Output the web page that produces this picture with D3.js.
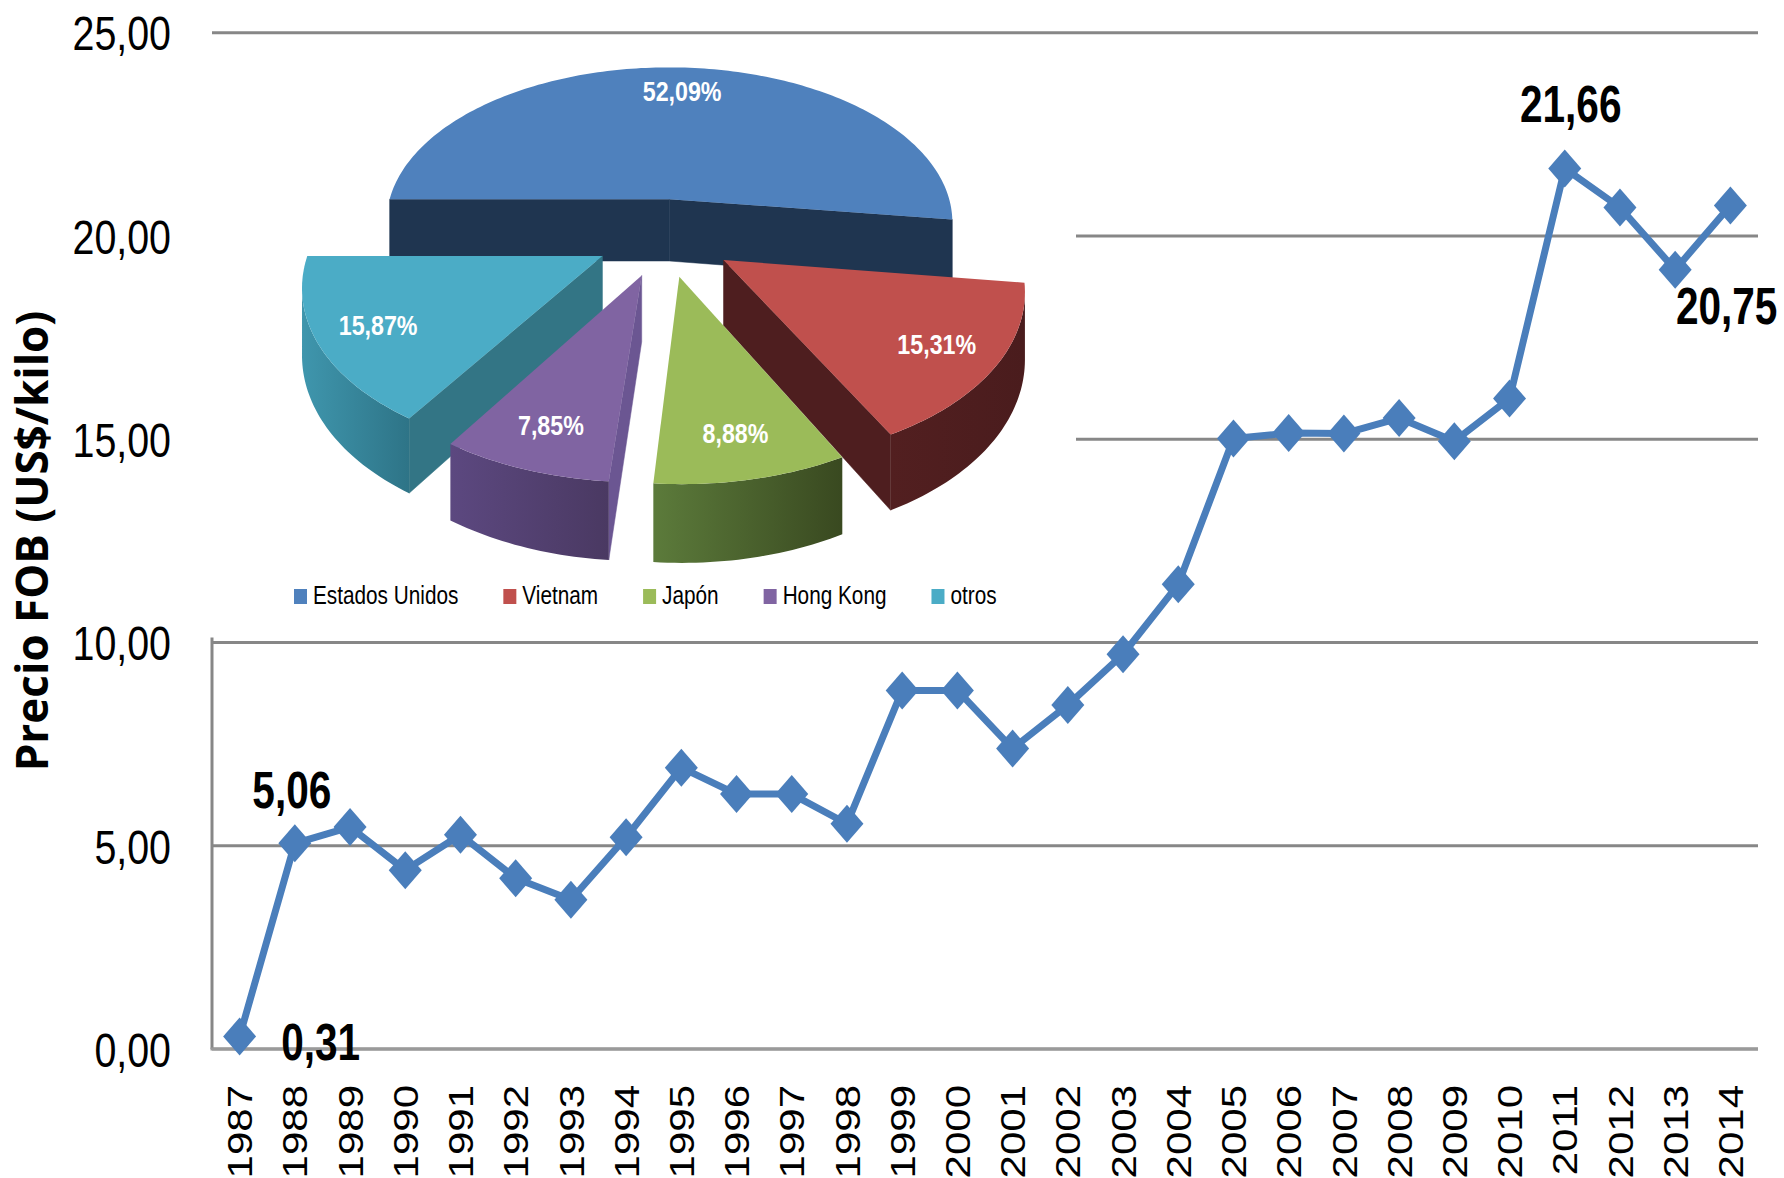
<!DOCTYPE html>
<html>
<head>
<meta charset="utf-8">
<script src="https://cdn.jsdelivr.net/npm/d3@7"></script>
<style>
  body { margin: 0; background: #fff; }
  svg { display: block; }
  .narrow { font-family: "Liberation Sans", Arial, sans-serif; }
</style>
</head>
<body>
<svg id="chart" width="1784" height="1178"></svg>
<script>
// ---------------- DATA ----------------
const years = ["1987","1988","1989","1990","1991","1992","1993","1994","1995","1996",
               "1997","1998","1999","2000","2001","2002","2003","2004","2005","2006",
               "2007","2008","2009","2010","2011","2012","2013","2014"];
const prices = [0.31, 5.06, 5.46, 4.40, 5.27, 4.20, 3.67, 5.21, 6.92, 6.27,
                6.27, 5.54, 8.82, 8.82, 7.39, 8.46, 9.71, 11.43, 15.02, 15.15,
                15.14, 15.52, 14.95, 16.00, 21.66, 20.70, 19.17, 20.75];
const labelledYears = ["1987", "1988", "2011", "2014"];
const yTicks = [0, 5, 10, 15, 20, 25];
const yTitle = "Precio FOB (US$/kilo)";

const markets = ["Estados Unidos", "Vietnam", "Japón", "Hong Kong", "otros"];
const shares = [52.09, 15.31, 8.88, 7.85, 15.87];

// ---------------- STYLE ----------------
const topColors  = ["#4F81BD", "#C0504D", "#9BBB59", "#8064A2", "#4BACC6"];
const wallFrom   = ["#22395A", "#521F20", "#5C7B3B", "#5C4880", "#3F96AD"];
const wallTo     = ["#1E3450", "#4A1C1D", "#394920", "#4A3962", "#2E7487"];
const faceColors = ["#1F3550", "#4E1E1F", "#4C6430", "#6B5692", "#337585"];

const locale = d3.formatLocale({decimal: ",", thousands: ".", grouping: [3], currency: ["", ""]});
const fmt2 = locale.format(".2f");

// squeeze / stretch text along its advance direction (Calibri-like narrow look)
function fitText(sel, factor) {
  sel.each(function () {
    const len = this.getComputedTextLength();
    d3.select(this).attr("textLength", len * factor).attr("lengthAdjust", "spacingAndGlyphs");
  });
}

const svg = d3.select("#chart");
const pL = 212, pR = 1758, pT = 32.7, pB = 1049;

const x = d3.scaleBand().domain(years).range([pL, pR]);
const y = d3.scaleLinear().domain([0, 25]).range([pB, pT]);
const xc = d => x(d) + x.bandwidth() / 2;

// gridlines
svg.append("g").selectAll("line").data(yTicks).join("line")
  .attr("x1", pL).attr("x2", pR)
  .attr("y1", d => y(d)).attr("y2", d => y(d))
  .attr("stroke", "#878787").attr("stroke-width", 3);

// y axis labels
const yAxis = svg.append("g").attr("transform", `translate(${pL},0)`)
  .call(d3.axisLeft(y).tickValues(yTicks).tickSize(0).tickPadding(41).tickFormat(fmt2));
yAxis.select(".domain").remove();
yAxis.selectAll("text").attr("class", "narrow").attr("font-size", 48).attr("fill", "#000")
  .attr("dy", "0.36em").call(fitText, 0.82);

// x axis labels
const xAxis = svg.append("g").attr("transform", `translate(0,${pB})`)
  .call(d3.axisBottom(x).tickSize(0));
xAxis.select(".domain").remove();
xAxis.selectAll("text")
  .attr("font-family", "'Liberation Sans', Arial, sans-serif")
  .attr("font-size", 35).attr("fill", "#000")
  .attr("transform", "rotate(-90)")
  .attr("text-anchor", "end")
  .attr("x", -36).attr("y", 0).attr("dy", "0.36em")
  .call(fitText, 1.2);

// axis lines
svg.append("line").attr("x1", pL).attr("x2", pL).attr("y1", y(10) - 5).attr("y2", pB)
  .attr("stroke", "#878787").attr("stroke-width", 3);
svg.append("line").attr("x1", pL - 1.5).attr("x2", pR).attr("y1", pB).attr("y2", pB)
  .attr("stroke", "#9a9a9a").attr("stroke-width", 3);

// y title
svg.append("text")
  .attr("transform", `translate(32,541) rotate(-90)`)
  .attr("text-anchor", "middle").attr("dy", "0.36em")
  .attr("font-family", "'Open Sans', 'DejaVu Sans', sans-serif")
  .attr("font-weight", "bold").attr("font-size", 44).attr("fill", "#000")
  .text(yTitle);

// ---------------- INSET PIE (white background box) ----------------
const pieG = svg.append("g");
pieG.append("rect").attr("x", 196).attr("y", 40).attr("width", 1076 - 196).attr("height", 597)
  .attr("fill", "#fff");

const defs = svg.append("defs");
markets.forEach((m, i) => {
  const g = defs.append("linearGradient").attr("id", "wall" + i)
    .attr("x1", 0).attr("x2", 1).attr("y1", 0).attr("y2", 0);
  g.append("stop").attr("offset", "0%").attr("stop-color", wallFrom[i]);
  g.append("stop").attr("offset", "100%").attr("stop-color", wallTo[i]);
});

const Cx = 665, Cy = 237, R = 290, sinT = 0.56, K = 6.6, EXPL = 70, DEPTH = 64;
const camY = K * R;
function proj(X, Y, Z) {
  const s = K / (K - Y / R);
  return [Cx + X * s, Cy + (Y * sinT + Z) * s];
}
const arcs = d3.pie().sort(null).startAngle(-Math.PI / 2).endAngle(3 * Math.PI / 2)(shares);
const slices = arcs.map((a, i) => {
  const mid = (a.startAngle + a.endAngle) / 2;
  return {i, a, mid, ox: EXPL * Math.sin(mid), oy: -EXPL * Math.cos(mid)};
});
const lineGen = d3.line();
function rimPt(s, th, r, z) {
  return proj(s.ox + r * Math.sin(th), s.oy - r * Math.cos(th), z);
}
function visible(nx, ny, px, py) {
  return nx * (0 - px) + ny * (camY - py) > 0;
}
slices.slice().sort((p, q) => p.oy - q.oy).forEach(s => {
  const g = pieG.append("g");
  const a0 = s.a.startAngle, a1 = s.a.endAngle;
  const N = Math.max(8, Math.ceil((a1 - a0) / 0.02));
  // radial faces
  [[a0, -1], [a1, 1]].forEach(([th, sg]) => {
    const nx = sg * Math.cos(th), ny = sg * Math.sin(th);
    const px = s.ox + R / 2 * Math.sin(th), py = s.oy - R / 2 * Math.cos(th);
    if (!visible(nx, ny, px, py)) return;
    const pts = [proj(s.ox, s.oy, 0), rimPt(s, th, R, 0), rimPt(s, th, R, DEPTH), proj(s.ox, s.oy, DEPTH)];
    g.append("path").attr("d", lineGen(pts) + "Z").attr("fill", faceColors[s.i])
      .attr("stroke", faceColors[s.i]).attr("stroke-width", 0.5);
  });
  // outer wall (front-facing part)
  const topPts = [], botPts = [];
  for (let k = 0; k <= N; k++) {
    const th = a0 + (a1 - a0) * k / N;
    const px = s.ox + R * Math.sin(th), py = s.oy - R * Math.cos(th);
    if (visible(Math.sin(th), -Math.cos(th), px, py)) {
      topPts.push(rimPt(s, th, R, 0));
      botPts.push(rimPt(s, th, R, DEPTH));
    }
  }
  if (topPts.length > 1) {
    g.append("path").attr("d", lineGen(topPts.concat(botPts.reverse())) + "Z")
      .attr("fill", `url(#wall${s.i})`);
  }
  // top surface
  const tp = [proj(s.ox, s.oy, 0)];
  for (let k = 0; k <= N; k++) tp.push(rimPt(s, a0 + (a1 - a0) * k / N, R, 0));
  g.append("path").attr("d", lineGen(tp) + "Z").attr("fill", topColors[s.i]);
});

// pie labels
pieG.selectAll("text.pl").data(slices).join("text").attr("class", "narrow pl")
  .attr("x", s => rimPt(s, s.mid, 0.8 * R, 0)[0])
  .attr("y", s => rimPt(s, s.mid, 0.8 * R, 0)[1])
  .attr("dy", "0.36em").attr("text-anchor", "middle")
  .attr("font-weight", "bold").attr("font-size", 28).attr("fill", "#fff")
  .text((s, i) => locale.format(".2f")(shares[i]) + "%")
  .call(fitText, 0.83);

// legend
const leg = pieG.append("g").attr("transform", "translate(294,604)");
let lx = 0;
markets.forEach((m, i) => {
  const it = leg.append("g").attr("transform", `translate(${lx},0)`);
  it.append("rect").attr("x", 0).attr("y", -15).attr("width", 13).attr("height", 15).attr("fill", topColors[i]);
  const t = it.append("text").attr("class", "narrow").attr("x", 19).attr("y", 0)
    .attr("font-size", 25).attr("fill", "#000").text(m);
  const len = t.node().getComputedTextLength() * 0.83;
  t.attr("textLength", len).attr("lengthAdjust", "spacingAndGlyphs");
  lx += 19 + len + 45;
});

// ---------------- LINE SERIES ----------------
const series = years.map((yr, i) => ({yr, v: prices[i]}));
svg.append("path").datum(series)
  .attr("d", d3.line().x(d => xc(d.yr)).y(d => y(d.v)))
  .attr("fill", "none").attr("stroke", "#4A7EBB").attr("stroke-width", 7)
  .attr("stroke-linejoin", "round");

const diamond = {
  draw(ctx, size) {
    const w = 16.5, h = 19;
    ctx.moveTo(0, -h); ctx.lineTo(w, 0); ctx.lineTo(0, h); ctx.lineTo(-w, 0); ctx.closePath();
  }
};
svg.append("g").selectAll("path").data(series).join("path")
  .attr("transform", d => `translate(${xc(d.yr)},${y(d.v)})`)
  .attr("d", d3.symbol(diamond))
  .attr("fill", "#4A7EBB");

// data labels: [dx, dy, anchor]
const lblOffsets = {"1987": [81, 5, "middle"], "1988": [-3, -54, "middle"],
                    "2011": [6, -65, "middle"], "2014": [47, 100, "end"]};
svg.append("g").selectAll("text").data(series.filter(d => labelledYears.includes(d.yr))).join("text")
  .attr("class", "narrow")
  .attr("x", d => xc(d.yr) + lblOffsets[d.yr][0])
  .attr("y", d => y(d.v) + lblOffsets[d.yr][1])
  .attr("dy", "0.36em").attr("text-anchor", d => lblOffsets[d.yr][2])
  .attr("font-weight", "bold").attr("font-size", 52).attr("fill", "#000")
  .text(d => fmt2(d.v))
  .call(fitText, 0.78);
</script>
</body>
</html>
